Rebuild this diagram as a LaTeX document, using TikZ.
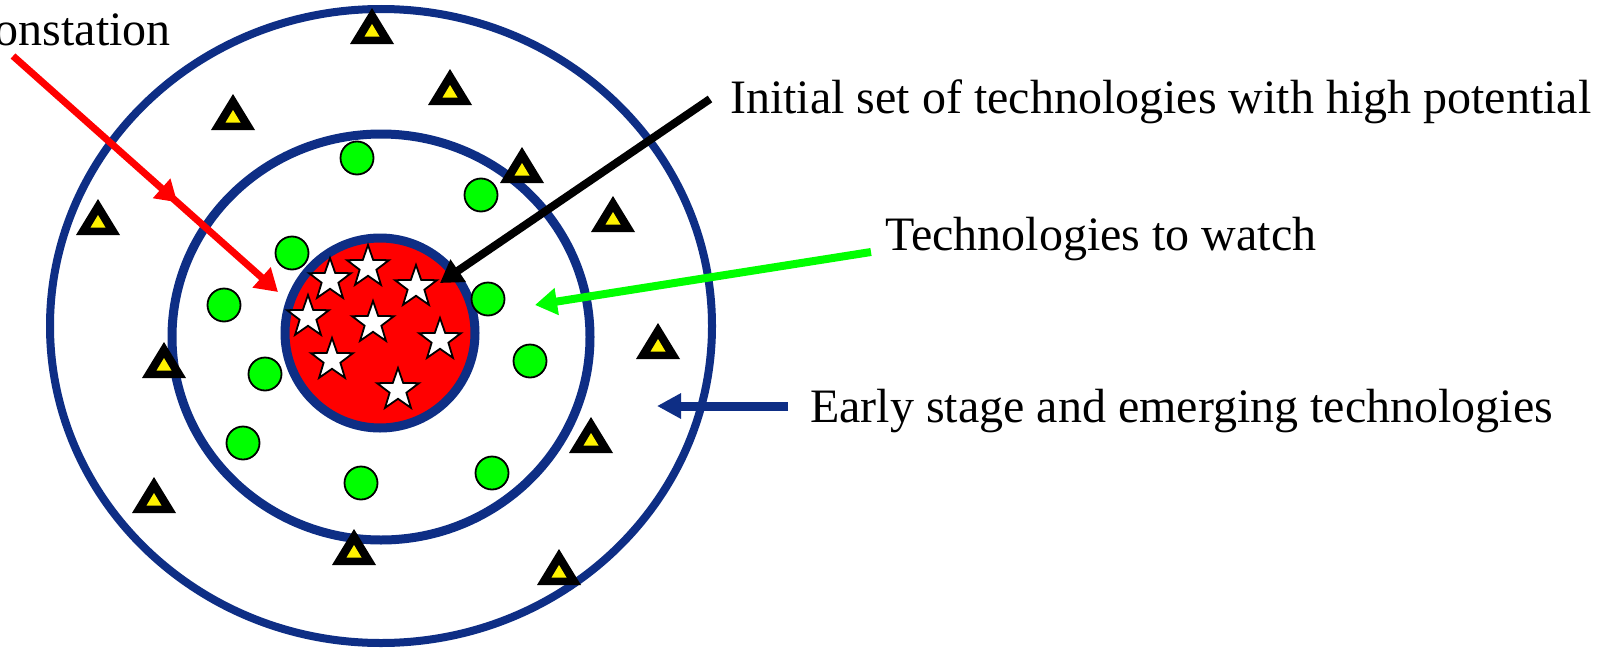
\documentclass[tikz,border=0pt]{standalone}
\usepackage{fontspec}
\setmainfont{Liberation Serif}
\usetikzlibrary{arrows.meta,shapes.geometric,decorations.markings}
\definecolor{ringblue}{RGB}{14,46,133}
\definecolor{limegreen}{RGB}{0,255,0}
\begin{document}
\begin{tikzpicture}[x=1pt,y=-1pt,
  ring/.style={draw=ringblue},
  dot/.style={circle,draw=black,fill=limegreen,line width=1.8pt,minimum size=33pt,inner sep=0pt},
  starnode/.style={star,star points=5,star point ratio=2.5,draw=black,fill=white,line width=1.8pt,minimum size=44pt,inner sep=0pt},
  lbl/.style={font=\fontsize{48}{58}\selectfont,inner sep=0pt,anchor=base west},
  tip/.style={-{Triangle[length=22pt,width=26pt]}},
  tri/.pic={\fill[black] (-22,0)--(22,0)--(0,-36)--cycle;
            \fill[yellow] (-7.5,-7.5)--(7.5,-7.5)--(0,-20)--cycle;}
]
\useasboundingbox (0,0) rectangle (1608,653);
\clip (0,0) rectangle (1608,653);
\fill[white] (0,0) rectangle (1608,653);

% rings
\draw[ring,line width=8pt] (381,326) ellipse [x radius=331pt, y radius=317pt];
\draw[ring,line width=9pt] (381,337) ellipse [x radius=209pt, y radius=203pt];
\draw[ring,line width=9pt,fill=red] (380,333) circle [radius=95pt];

% green dots
\foreach \p/\n in {(357,158)/1,(481,195)/2,(292,253)/3,(224,305)/4,(488,299)/5,
                   (265,374)/6,(530,361)/7,(243,443)/8,(361,483)/9,(492,473)/10}
  \node[dot] (g\n) at \p {};

% triangles
\foreach \p in {(372,44),(450,105),(233,130),(98,235),(522,183),(613,232),
                (164,378),(658,359),(591,453),(154,513),(354,565),(559,585)}
  \pic at \p {tri};

% stars
\foreach \p/\n in {(330,280)/1,(368,267)/2,(416,287)/3,(308,317)/4,
                   (373,323)/5,(440,340)/6,(332,360)/7,(398,390)/8}
  \node[starnode] (s\n) at \p {};

% labels
\node[lbl,anchor=base east] (tDemo) at (171,45) {onstation};
\node[lbl] (tInit) at (730,113) {Initial set of technologies with high potential};
\node[lbl] (tWatch) at (885,250) {Technologies to watch};
\node[lbl] (tEarly) at (810,422) {Early stage and emerging technologies};

% arrow end points
\coordinate (redS) at (13,56);
\coordinate (redE) at (278,292);
\coordinate (blkS) at (710,99);
\coordinate (blkE) at (440,283);
\coordinate (grnS) at (871,252);
\coordinate (grnE) at (535,305);
\coordinate (bluS) at (788,406);
\coordinate (bluE) at (657,406);

% arrows
\draw[red,line width=7pt,tip,
  postaction={decorate},
  decoration={markings,mark=at position 0.62 with {\arrow{Triangle[length=21pt,width=25pt]}}}]
  (redS) -- (redE);
\draw[black,line width=8pt,tip] (blkS) -- (blkE);
\draw[limegreen,line width=8pt,tip] (grnS) -- (grnE);
\draw[ringblue,line width=9pt,-{Triangle[length=24pt,width=24pt]}] (bluS) -- (bluE);
\end{tikzpicture}
\end{document}
